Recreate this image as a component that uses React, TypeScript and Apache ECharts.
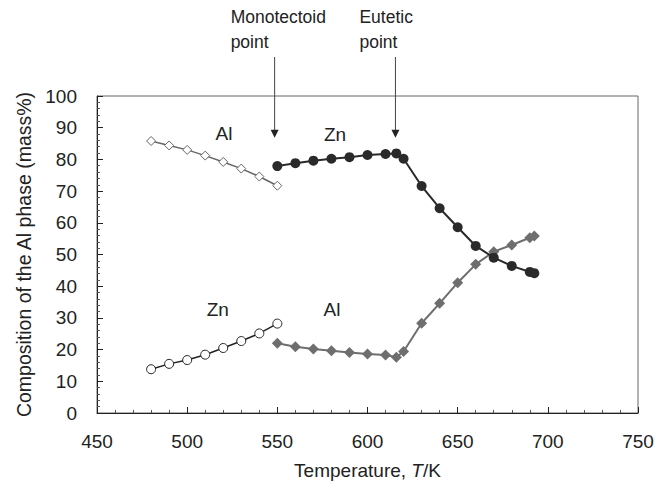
import React, { useEffect, useRef } from "react";
import * as echarts from "echarts";

const FONT = '"Liberation Sans", Arial, Helvetica, sans-serif';

// Two-phase region below the monotectoid temperature
const tempLow = [480, 490, 500, 510, 520, 530, 540, 550];
const alPhaseAlLow = [85.8, 84.4, 83.0, 81.2, 79.2, 77.1, 74.6, 71.7];
const alPhaseZnLow = [13.8, 15.5, 16.7, 18.4, 20.5, 22.7, 25.1, 28.2];

// Above the monotectoid temperature
const tempHigh = [550, 560, 570, 580, 590, 600, 610, 616, 620, 630, 640, 650, 660, 670, 680, 690, 692.5];
const alPhaseZnHigh = [77.9, 78.8, 79.6, 80.2, 80.7, 81.4, 81.7, 81.9, 80.2, 71.6, 64.6, 58.6, 52.7, 49.0, 46.4, 44.5, 44.1];
const alPhaseAlHigh = [22.0, 20.9, 20.2, 19.6, 19.1, 18.6, 18.3, 17.6, 19.4, 28.3, 34.6, 41.1, 46.9, 50.9, 53.0, 55.3, 55.8];

const xTicks = { min: 450, max: 750, step: 50 };
const yTicks = { min: 0, max: 100, step: 10 };

// Annotations [text, T, value]
const curveLabels: [string, number, number][] = [
  ["Al", 520.4, 88.3],
  ["Zn", 582, 88.0],
  ["Zn", 517, 32.5],
  ["Al", 580.3, 32.5],
];
const arrows: { lines: string[]; t: number; tip: number }[] = [
  { lines: ["Monotectoid", "point"], t: 548.5, tip: 86.8 },
  { lines: ["Eutetic", "point"], t: 615.5, tip: 86.8 },
];

const zip = (xs: number[], ys: number[]) => xs.map((x, i) => [x, ys[i]]);

export default function App() {
  const ref = useRef<HTMLDivElement>(null);
  useEffect(() => {
    if (!ref.current) return;
    const chart = echarts.init(ref.current, null, { renderer: "svg" });
    const txt = "#222";
    chart.setOption({
      animation: false,
      backgroundColor: "#fff",
      textStyle: { fontFamily: FONT },
      grid: { left: 97, right: 30, top: 96, bottom: 77, show: true, borderColor: "#666", borderWidth: 1 },
      xAxis: {
        type: "value",
        min: xTicks.min,
        max: xTicks.max,
        interval: xTicks.step,
        name: "Temperature, {i|T}/K",
        nameLocation: "middle",
        nameGap: 48,
        nameTextStyle: {
          fontSize: 19,
          color: txt,
          fontFamily: FONT,
          rich: { i: { fontStyle: "italic", fontSize: 19, color: txt, fontFamily: FONT } },
        },
        axisLine: { lineStyle: { color: "#222", width: 1 } },
        axisTick: { inside: true, length: 6, lineStyle: { color: "#222" } },
        minorTick: { show: true, splitNumber: 5, length: 3, lineStyle: { color: "#555" } },
        axisLabel: { fontSize: 19, color: txt, margin: 19, fontFamily: FONT },
        splitLine: { show: false },
      },
      yAxis: {
        type: "value",
        min: yTicks.min,
        max: yTicks.max,
        interval: yTicks.step,
        name: "Composition of the Al phase (mass%)",
        nameLocation: "middle",
        nameGap: 61,
        nameTextStyle: { fontSize: 19.5, color: txt, fontFamily: FONT },
        axisLine: { lineStyle: { color: "#222", width: 1 } },
        axisTick: { inside: true, length: 6, lineStyle: { color: "#222" } },
        minorTick: { show: true, splitNumber: 5, length: 3, lineStyle: { color: "#555" } },
        axisLabel: { fontSize: 19, color: txt, margin: 20, fontFamily: FONT },
        splitLine: { show: false },
      },
      series: [
        {
          type: "line",
          data: zip(tempLow, alPhaseAlLow),
          symbol: "diamond",
          symbolSize: 9,
          lineStyle: { color: "#666", width: 1.5 },
          itemStyle: { color: "#fff", borderColor: "#666", borderWidth: 1 },
        },
        {
          type: "line",
          data: zip(tempLow, alPhaseZnLow),
          symbol: "circle",
          symbolSize: 9,
          lineStyle: { color: "#222", width: 1.5 },
          itemStyle: { color: "#fff", borderColor: "#222", borderWidth: 1 },
        },
        {
          type: "line",
          data: zip(tempHigh, alPhaseAlHigh),
          symbol: "diamond",
          symbolSize: 11,
          lineStyle: { color: "#6e6e6e", width: 2 },
          itemStyle: { color: "#6e6e6e" },
        },
        {
          type: "line",
          data: zip(tempHigh, alPhaseZnHigh),
          symbol: "circle",
          symbolSize: 10,
          lineStyle: { color: "#2a2a2a", width: 2 },
          itemStyle: { color: "#2a2a2a" },
        },
      ],
    });

    const px = (x: number, y: number) => chart.convertToPixel({ gridIndex: 0 }, [x, y]) as number[];
    const graphics: any[] = [];
    curveLabels.forEach(([t, x, y]) => {
      const p = px(x, y);
      graphics.push({
        type: "text",
        x: p[0],
        y: p[1],
        style: { text: t, fontSize: 19, fill: txt, fontFamily: FONT, align: "center", verticalAlign: "middle" },
      });
    });
    arrows.forEach((a) => {
      const tip = px(a.t, a.tip);
      const ax = tip[0];
      const textLeft = ax - (a.lines[0] === "Monotectoid" ? 44 : 36);
      a.lines.forEach((l, i) => {
        graphics.push({
          type: "text",
          x: textLeft,
          y: 17 + i * 25,
          style: { text: l, fontSize: 17.5, fill: txt, fontFamily: FONT, align: "left", verticalAlign: "middle" },
        });
      });
      graphics.push({
        type: "line",
        shape: { x1: ax, y1: 57, x2: ax, y2: tip[1] - 6 },
        style: { stroke: "#444", lineWidth: 1 },
      });
      graphics.push({
        type: "polygon",
        shape: { points: [[ax - 4, tip[1] - 8], [ax + 4, tip[1] - 8], [ax, tip[1]]] },
        style: { fill: "#222" },
      });
    });
    chart.setOption({ graphic: graphics });

    return () => chart.dispose();
  }, []);
  return <div ref={ref} style={{ width: 668, height: 490, position: "absolute", left: 0, top: 0 }} />;
}
